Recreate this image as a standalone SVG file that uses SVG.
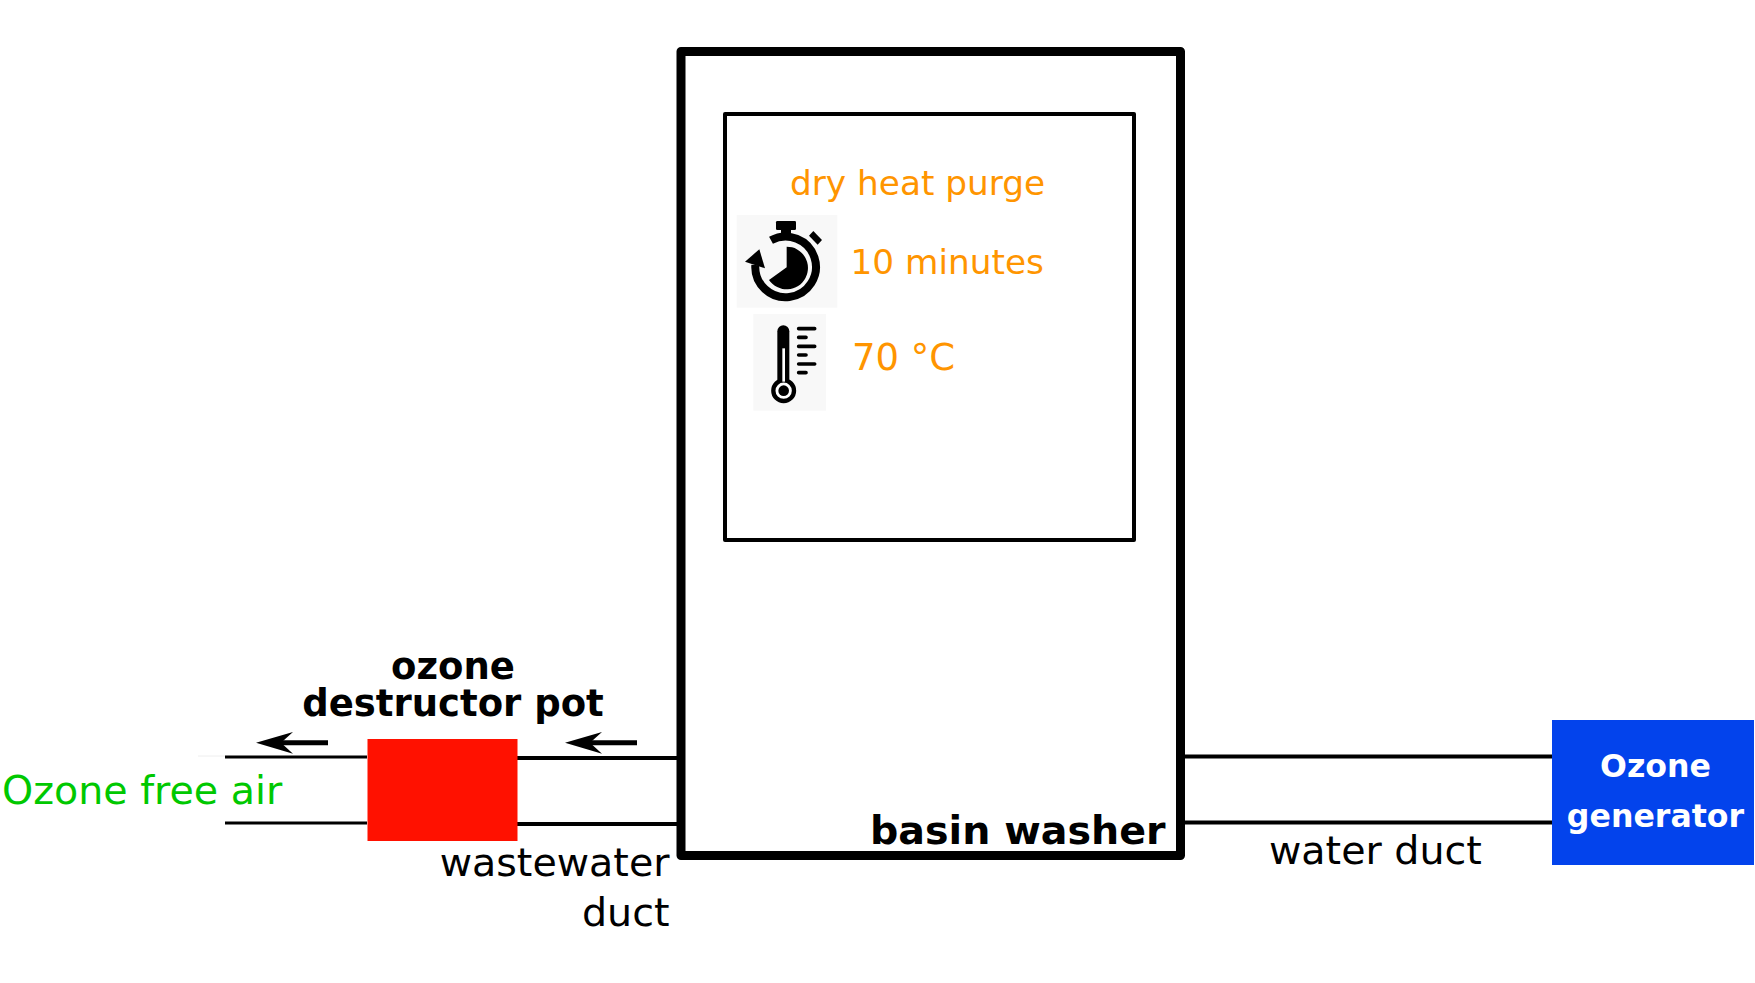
<svg xmlns="http://www.w3.org/2000/svg" width="1755" height="983" viewBox="0 0 1755 983">
<style>
text{font-family:"DejaVu Sans",sans-serif}
.o{fill:#ff9500;font-size:34.300px}
.k{fill:#000;font-size:39.600px}
.b{fill:#000;font-size:39.600px;font-weight:700}
.p{fill:#000;font-size:37px;font-weight:700;text-anchor:middle}
.w{fill:#fff;font-size:31.600px;font-weight:700;text-anchor:middle}
.l{stroke:#000;stroke-width:4;fill:none}
</style>
<rect width="1755" height="983" fill="#fff"/>
<g id="connectors">
<path class="l" d="M517 758H680M517 824H680M1181 756.500H1552M1181 822.500H1552"/>
<path d="M225 757H367M225 823H367" stroke="#000" stroke-width="3" fill="none"/>
<path d="M198 756H225" stroke="#eee" stroke-width="1"/>
<g id="arrow-left"><path d="M275 742.700H328" stroke="#000" stroke-width="5"/><path d="M256 742.700L293 732L281 742.700L293 753.700Z"/></g>
<g id="arrow-right"><path d="M584 742.700H637" stroke="#000" stroke-width="5"/><path d="M565 742.700L602 732L590 742.700L602 753.700Z"/></g>
</g>
<g id="basin-washer">
<rect x="681" y="51.500" width="499.500" height="804" fill="none" stroke="#000" stroke-width="9" stroke-linejoin="round"/>
<text class="b" x="1165.500" y="844" text-anchor="end">basin washer</text>
</g>
<g id="dry-heat-purge">
<rect x="725" y="114" width="409" height="426" fill="none" stroke="#000" stroke-width="4" stroke-linejoin="round"/>
<text class="o" x="790" y="195">dry heat purge</text>
<text class="o" x="850.500" y="274">10 minutes</text>
<text class="o" x="852" y="370" style="font-size:37px">70 °C</text>
</g>
<g id="timer-icon" transform="translate(720 200) scale(.33333)">
<rect x="50" y="45" width="302" height="278" fill="#f8f8f8"/>
<rect x="168" y="63" width="60" height="27" rx="4"/>
<rect x="183" y="88" width="30" height="22"/>
<path d="M153 121A91 91 0 1 1 106 195" fill="none" stroke="#000" stroke-width="24"/>
<path d="M75 185L118 148L135 205Z"/>
<path d="M280 93L306 120L293 134L267 107Z"/>
<path d="M200 140A64 64 0 1 1 147 240L200 202Z"/>
</g>
<g id="thermometer-icon" transform="translate(720 200) scale(.33333)">
<rect x="100" y="342" width="218" height="290" fill="#f8f8f8"/>
<path d="M172 394a18 18 0 0 1 36 0V540H172Z"/>
<circle cx="191" cy="572" r="31" fill="#fff" stroke="#000" stroke-width="13"/>
<circle cx="191" cy="572" r="16"/>
<rect x="187" y="445" width="8" height="100" fill="#fff"/>
<path d="M236 386H284M236 412H258M236 439H284M236 465H258M236 492H284M236 518H258" stroke="#000" stroke-width="11" stroke-linecap="round"/>
</g>
<g id="ozone-destructor-pot">
<rect x="367.500" y="739" width="150" height="102" fill="#ff1100"/>
<text class="p" x="453" y="679">ozone</text>
<text class="p" x="453" y="716">destructor pot</text>
</g>
<g id="ozone-generator">
<rect x="1552" y="720" width="202" height="145" fill="#0343ec"/>
<text class="w" x="1655.500" y="777">Ozone</text>
<text class="w" x="1655.500" y="827">generator</text>
</g>
<g id="labels">
<text x="2" y="804" fill="#00c800" style="font-size:39.600px">Ozone free air</text>
<text class="k" x="669.500" y="876" text-anchor="end">wastewater</text>
<text class="k" x="669.500" y="926" text-anchor="end">duct</text>
<text class="k" x="1269" y="864">water duct</text>
</g>
</svg>
